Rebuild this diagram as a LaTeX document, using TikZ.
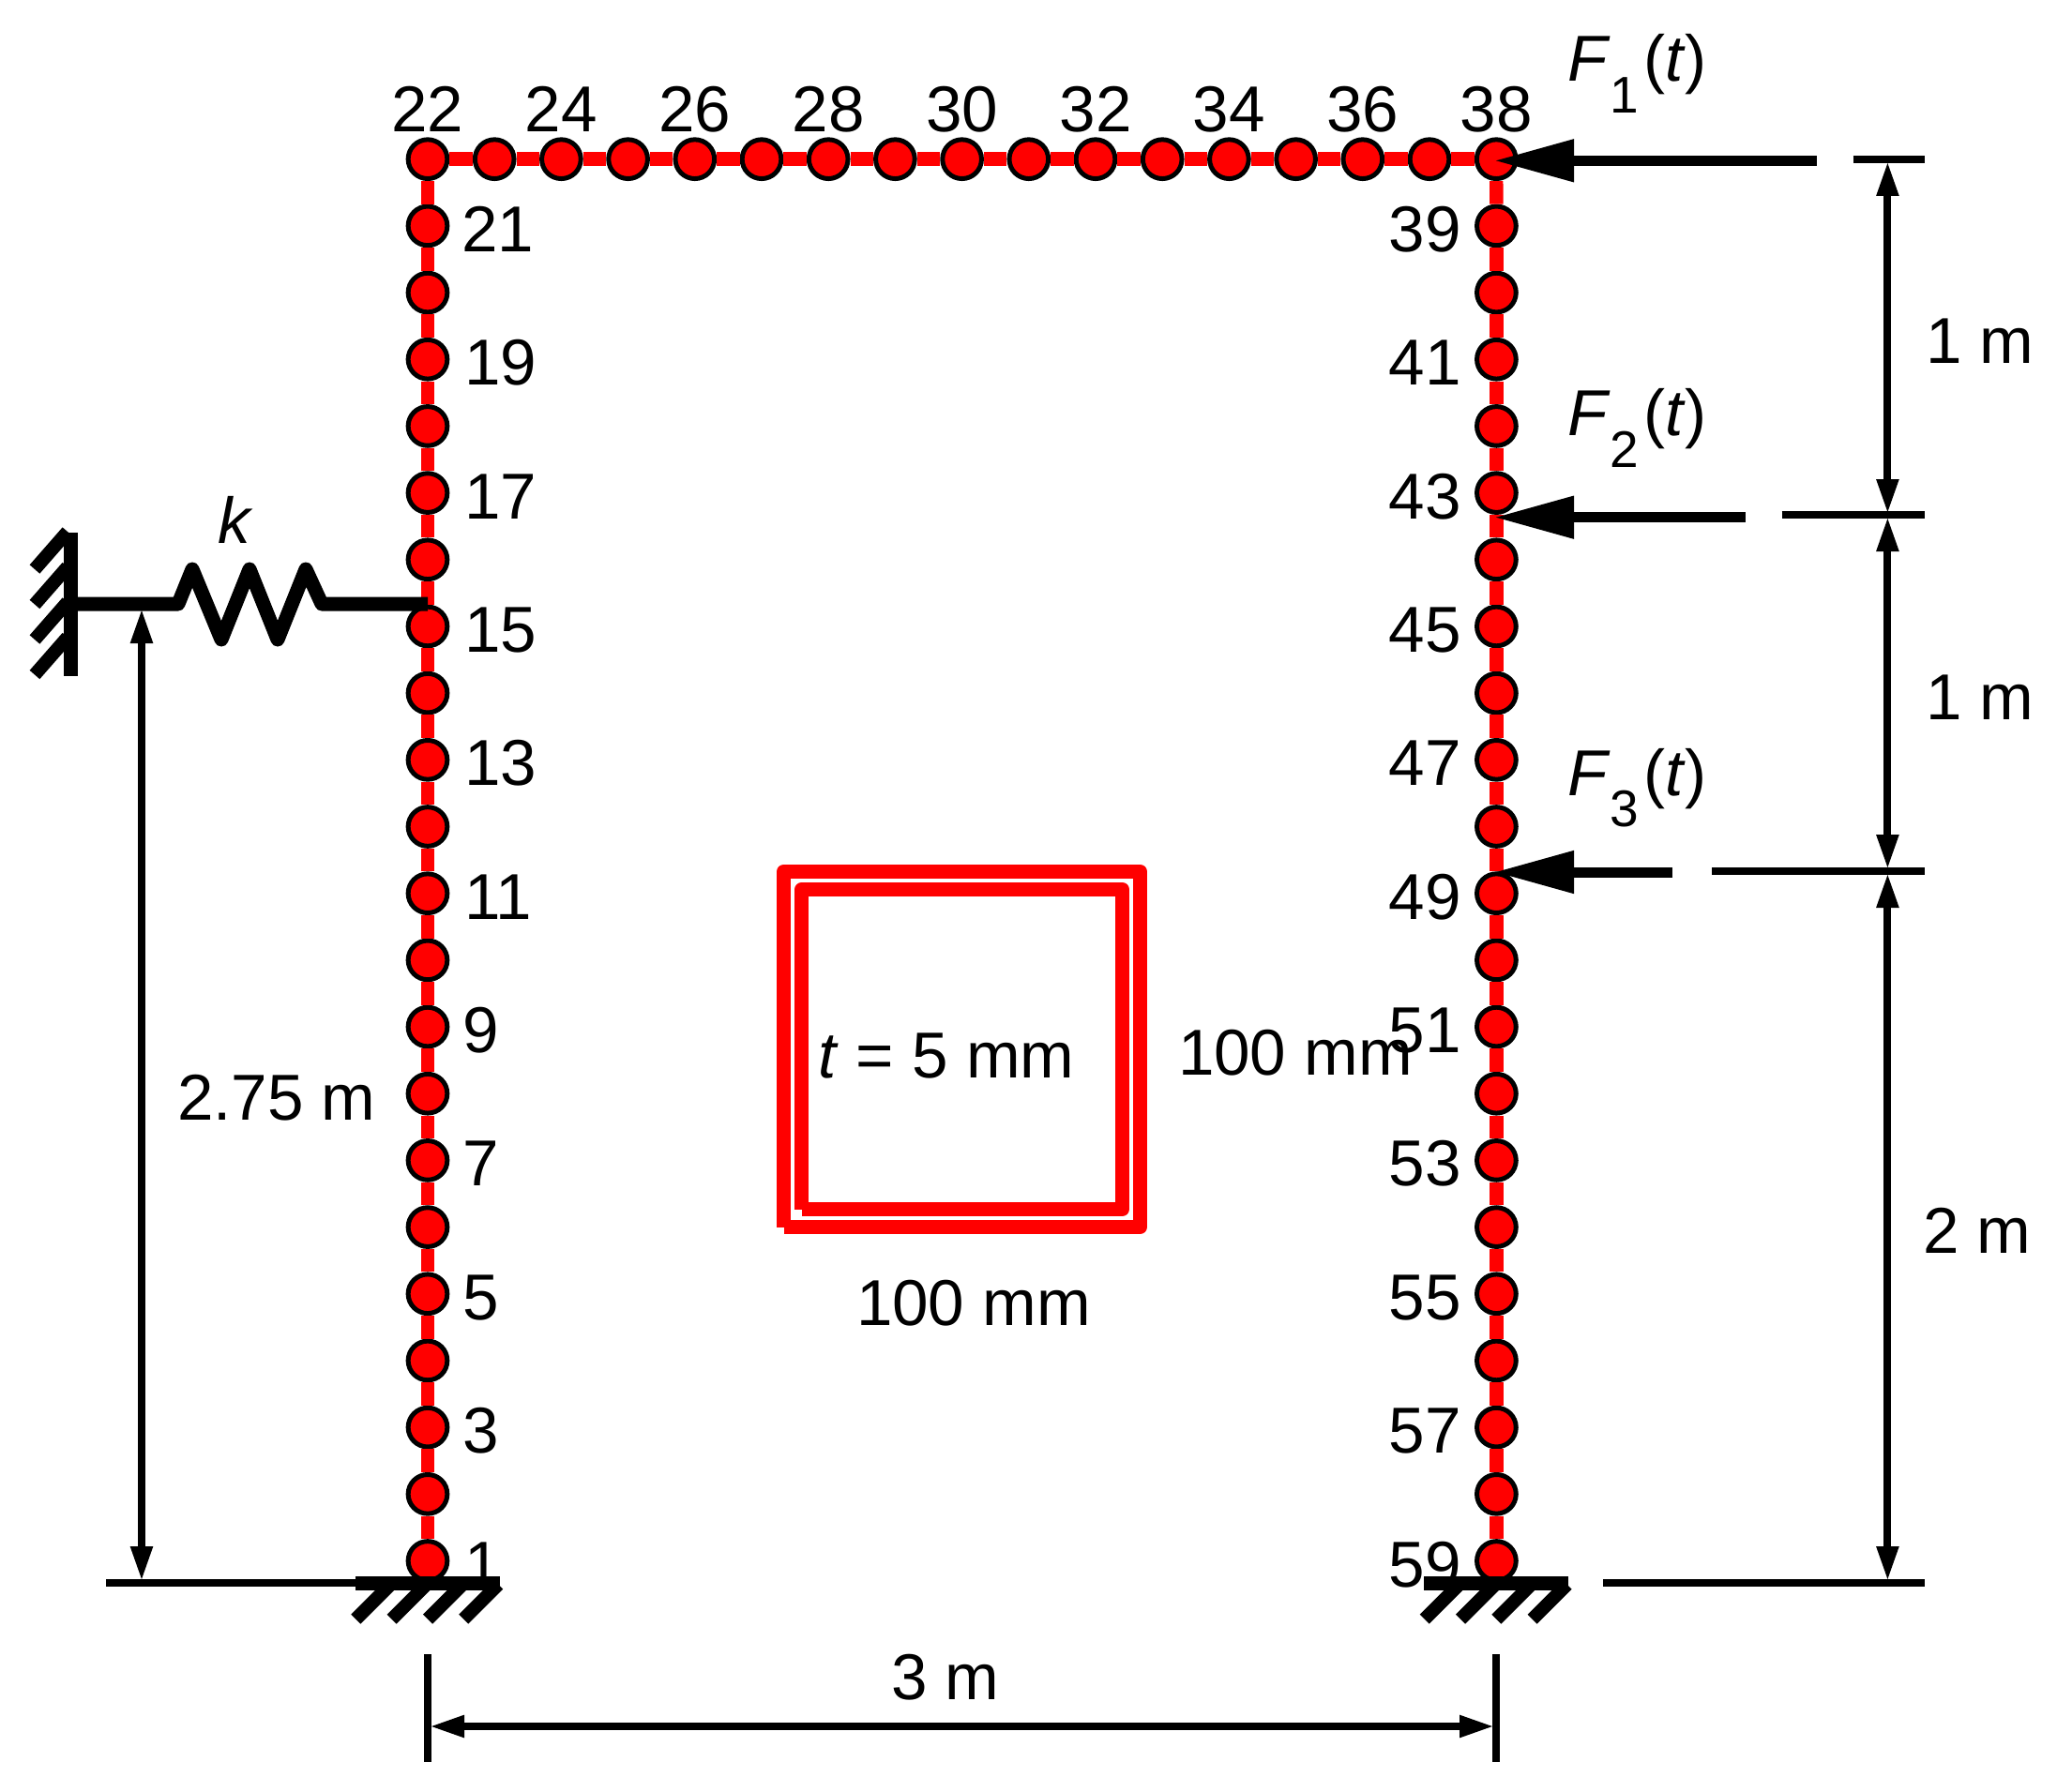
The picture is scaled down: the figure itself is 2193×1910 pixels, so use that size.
\documentclass[tikz,border=0pt]{standalone}
\usepackage{fontspec}
\setmainfont{Liberation Sans}
\usetikzlibrary{arrows.meta}
\tikzset{
  x=0.5pt,y=-0.5pt,
  fem/.style={circle,draw=black,fill=red,line width=2.5pt,minimum size=20.85pt,inner sep=0pt},
  beam/.style={red,line width=7.2pt},
  lab/.style={inner sep=0pt,outer sep=0pt,font=\fontsize{34.6}{40}\selectfont},
  thick line/.style={black,line width=7.5pt},
  hatch/.style={black,line width=7.1pt},
  dim/.style={black,line width=4pt},
  dimarrow/.style={black,line width=4pt,arrows={-{Triangle[length=18.5pt,width=11pt,sep=0pt]}}},
  force/.style={black,line width=5.5pt,arrows={-{Triangle[length=42.5pt,width=21.5pt,sep=0pt]}}},
  tube/.style={red,line width=7.5pt,line join=round},
}
\newcommand{\Fsub}[1]{\textit{F}\raisebox{-16.85pt}{\fontsize{27.5}{30}\selectfont #1}\hspace{2.5pt}(\textit{t})}
\begin{document}
\begin{tikzpicture}
\useasboundingbox (0,0) rectangle (2193,1910);
% FE nodes
\foreach \k in {1,...,22}{\node[fem] (n\k) at (456,{169.7+(22-\k)*71.18}) {};}
\foreach \k in {23,...,38}{\node[fem] (n\k) at ({456+(\k-22)*71.2},169.7) {};}
\foreach \k in {39,...,59}{\node[fem] (n\k) at (1595.4,{169.7+(\k-38)*71.18}) {};}
% beam elements
\foreach \k in {1,...,58}{\pgfmathtruncatemacro{\j}{\k+1}\draw[beam] (n\k) -- (n\j);}
% node labels
\foreach \n in {22,24,...,38}{\path (n\n) ++(0,-29.5) node[lab,anchor=base] (l\n) {\n};}
\foreach \n/\d in {21/36,19/39,17/39,15/39,13/39,11/39,9/37,7/37,5/37,3/37,1/39}{\path (n\n) ++(\d,27.5) node[lab,anchor=base west] (l\n) {\n};}
\foreach \n in {39,41,...,59}{\path (n\n) ++(-37.5,27.5) node[lab,anchor=base east] (l\n) {\n};}
% section
\draw[tube] (835.5,1308.5) -- (835.5,929.5) -- (1215.5,929.5) -- (1215.5,1308.5) -- (835.5,1308.5);
\draw[tube] (854.8,1289.5) -- (854.8,948.5) -- (1196.5,948.5) -- (1196.5,1289.5) -- (854.8,1289.5);
% supports
\foreach \s/\c in {gl/1,gr/59}{
  \path (n\c) ++(0,24) coordinate (\s);
  \draw[thick line] (\s) ++(-77,0) -- ++(153.5,0);
  \foreach \o in {-76.7,-38.4,0,38.2}{\draw[hatch] (\s) ++(\o,38.2) -- ++(37,-37);}
}
% spring and wall
\coordinate (wall) at (75.7,644);
\draw[thick line] (75.7,568) -- (75.7,721);
\foreach \v in {607,644.5,682,719.5}{\draw[hatch] (37,\v) -- ++(35,-40);}
\draw[thick line,line join=round] (wall) -- (190,644) -- (205,607) -- (236,682) -- (266,607) -- (296,682) -- (326,607) -- (343,644) -- (wall -| n15);
\node[lab,anchor=base west] (kl) at (232,579) {\textit{k}};
% forces
\coordinate (f1tip) at (1593,171.3);
\coordinate (f2tip) at (1593,551.7);
\coordinate (f3tip) at (1593,930);
\draw[force] (1936.7,171.3) -- (f1tip);
\draw[force] (1860.6,551.7) -- (f2tip);
\draw[force] (1783,930) -- (f3tip);
\node[lab,anchor=base west] (f1) at (1671,87) {\Fsub{1}};
\node[lab,anchor=base west] (f2) at (1671,464.7) {\Fsub{2}};
\node[lab,anchor=base west] (f3) at (1671,848) {\Fsub{3}};
% dimension lines right
\draw[dim] (1975.6,170.5) -- (2051.5,170.5);
\draw[dim] (1899.6,549.4) -- (2051.5,549.4);
\draw[dim] (1825,928.7) -- (2051.5,928.7);
\draw[dim] (1709,1688) -- (2051.5,1688);
\draw[dimarrow] (2012.4,360) -- (2012.4,172);
\draw[dimarrow] (2012.4,360) -- (2012.4,548);
\draw[dimarrow] (2012.4,740) -- (2012.4,551);
\draw[dimarrow] (2012.4,740) -- (2012.4,927);
\draw[dimarrow] (2012.4,1300) -- (2012.4,931);
\draw[dimarrow] (2012.4,1300) -- (2012.4,1686);
\node[lab,anchor=base west] (d1) at (2053,387) {1 m};
\node[lab,anchor=base west] (d2) at (2053,767.4) {1 m};
\node[lab,anchor=base west] (d3) at (2050,1336.6) {2 m};
% dimension left
\draw[dim] (113,1688) -- (379,1688);
\draw[dimarrow] (151,1200) -- (151,649);
\draw[dimarrow] (151,1200) -- (151,1686);
\node[lab,anchor=base west] (d4) at (189,1194) {2.75 m};
% dimension bottom
\draw[dim] (n1 |- 0,1764) -- (n1 |- 0,1878.7);
\draw[dim] (n59 |- 0,1764) -- (n59 |- 0,1878.7);
\draw[dimarrow] (1000,1841) -- (458,1841);
\draw[dimarrow] (1000,1841) -- (1593,1841);
\node[lab,anchor=base] (d5) at (1008,1812) {3 m};
% section labels
\node[lab,anchor=base west] (s1) at (872,1149) {\textit{t} = 5 mm};
\node[lab,anchor=base west] (s2) at (1256,1146.5) {100 mm};
\node[lab,anchor=base west] (s3) at (913,1413) {100 mm};
\end{tikzpicture}
\end{document}
